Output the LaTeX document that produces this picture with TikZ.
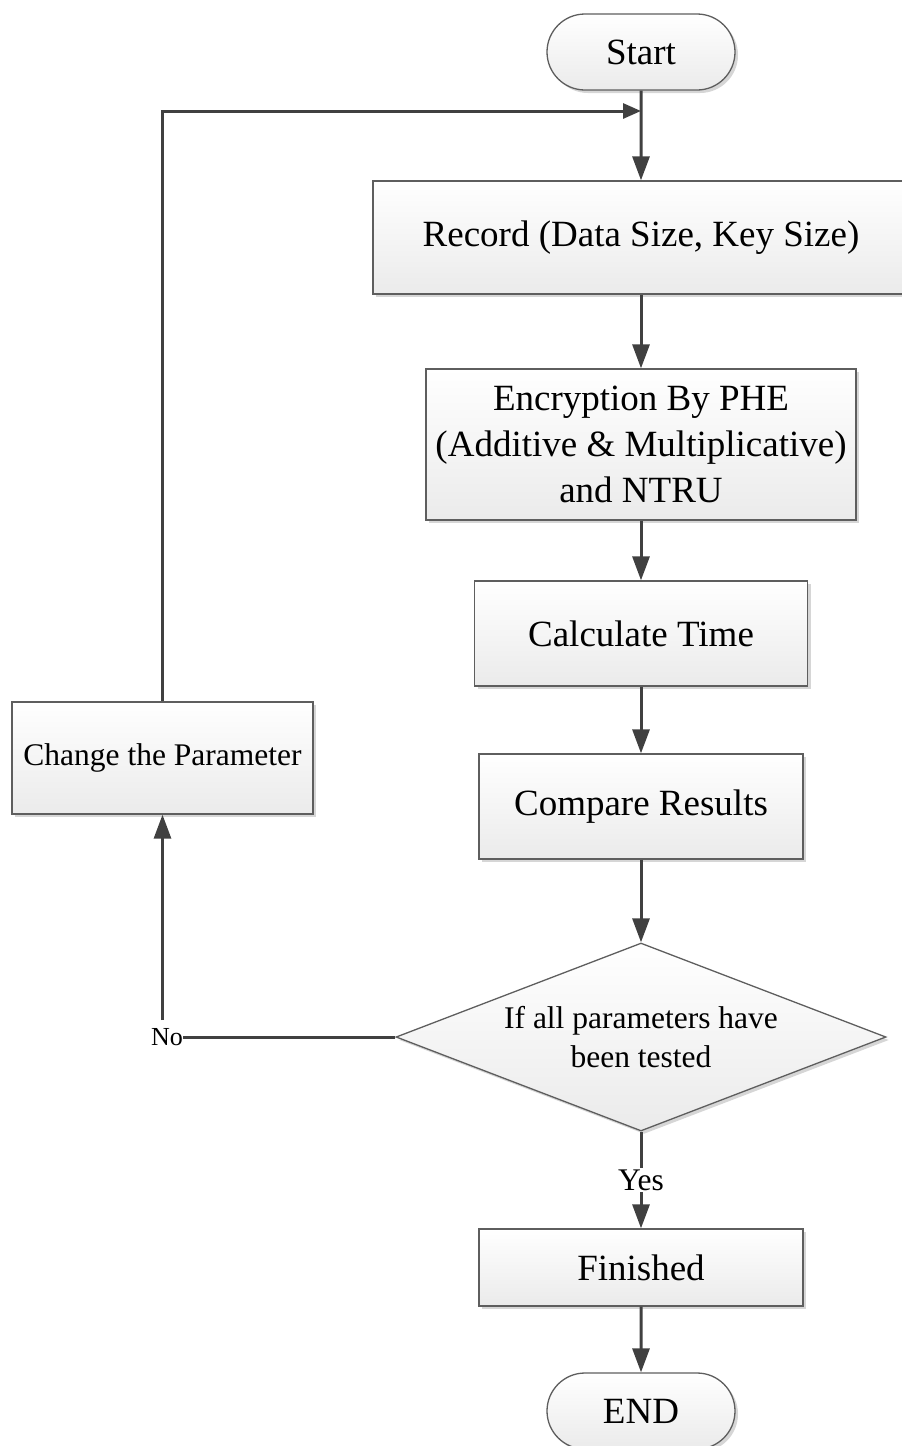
\documentclass[tikz,border=0pt]{standalone}
\usepackage{fontspec}
\setmainfont{Liberation Serif}
\usetikzlibrary{arrows.meta,shapes.geometric,shapes.misc,shadows}

\definecolor{edge}{HTML}{5E5E5E}
\definecolor{flow}{HTML}{404040}
\definecolor{shade}{HTML}{D6D6D6}

\tikzset{
  box/.style={draw=edge, line width=1.3pt, top color=white, bottom color=black!8,
    drop shadow={shadow xshift=3pt, shadow yshift=-3pt, fill=shade, opacity=1},
    inner sep=0pt, align=center, font=\fontsize{37}{46}\selectfont},
  procbox/.style={box, rectangle},
  termbox/.style={box, rounded rectangle},
  decbox/.style={box, diamond, font=\fontsize{31.5}{39}\selectfont},
  arr/.style={draw=flow, line width=3pt, -{Triangle[length=24pt,width=17pt]}},
  plain/.style={draw=flow, line width=3pt},
  lbl/.style={fill=white, inner sep=2pt}
}

\begin{document}
\begin{tikzpicture}[x=1pt,y=-1pt]
  \useasboundingbox (0,0) rectangle (902,1446);

  % main column
  \node[termbox, minimum width=188pt, minimum height=76pt] (start) at (641,52) {Start};
  \node[procbox, minimum width=536pt, minimum height=113pt] (rec) at (641,237.5) {Record (Data Size, Key Size)};
  \node[procbox, minimum width=430pt, minimum height=151pt] (enc) at (641,444.5)
    {Encryption By PHE\\(Additive \& Multiplicative)\\and NTRU};
  \node[procbox, minimum width=333pt, minimum height=105pt] (calc) at (641,633.5) {Calculate Time};
  \node[procbox, minimum width=324pt, minimum height=105pt] (comp) at (641,806.5) {Compare Results};
  \node[decbox, aspect=2.6, minimum width=490pt, minimum height=188pt] (dec) at (641,1037)
    {If all parameters have\\been tested};
  \node[procbox, minimum width=324pt, minimum height=77pt] (fin) at (641,1267.5) {Finished};
  \node[termbox, minimum width=188pt, minimum height=76pt] (end) at (641,1411) {END};

  % feedback branch
  \node[procbox, minimum width=301pt, minimum height=112pt, font=\fontsize{31.5}{39}\selectfont]
    (chg) at (162.5,758) {Change the Parameter};

  \coordinate (loopin) at (641,111);
  \coordinate (noup) at (162.5,1020);

  % connectors
  \draw[arr] (start) -- (rec);
  \draw[arr] (rec) -- (enc);
  \draw[arr] (enc) -- (calc);
  \draw[arr] (calc) -- (comp);
  \draw[arr] (comp) -- (dec);
  \draw[arr] (dec) -- node[lbl, font=\fontsize{31.5}{36}\selectfont] {Yes} (fin);
  \draw[arr] (fin) -- (end);

  \node[font=\fontsize{26}{30}\selectfont, inner sep=0pt, anchor=east] (no) at (183,1037) {No};
  \draw[plain] (dec.west) -- (no.east);
  \draw[arr] (noup) -- (chg.south);
  \draw[arr, -{Triangle[length=18pt,width=15pt]}] (chg.north) |- (loopin);
\end{tikzpicture}
\end{document}
